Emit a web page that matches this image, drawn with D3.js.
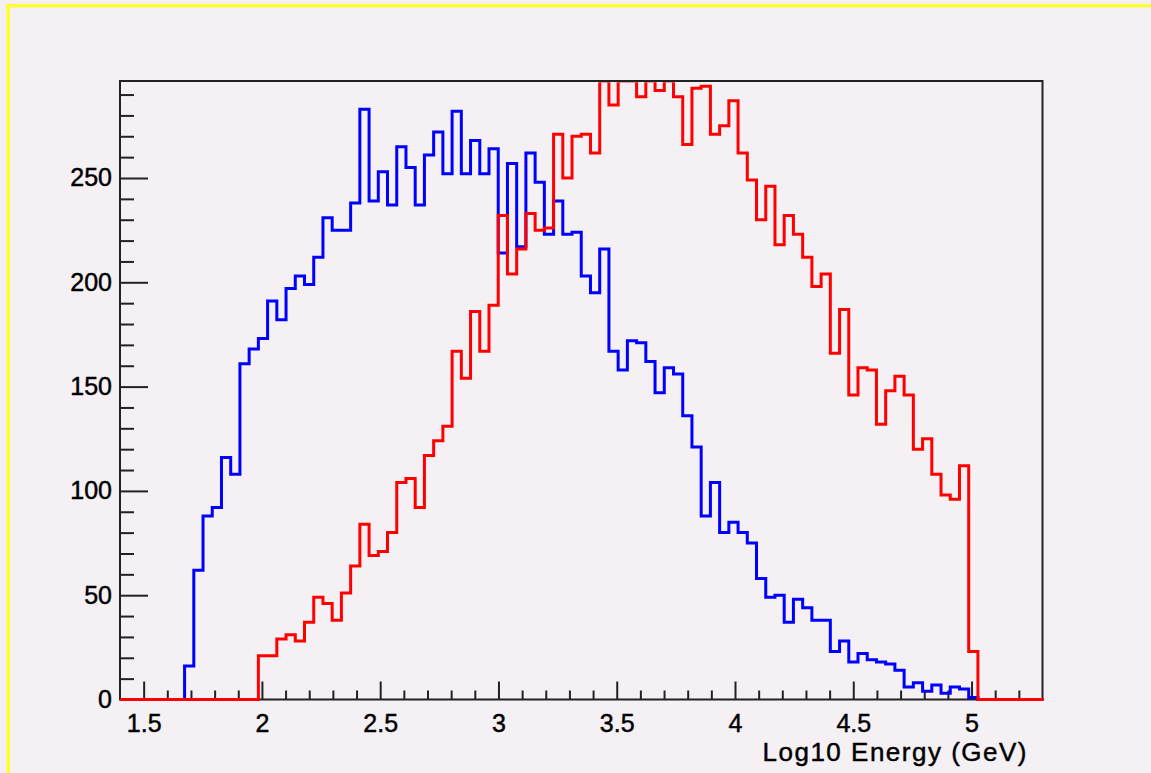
<!DOCTYPE html>
<html>
<head>
<meta charset="utf-8">
<script src="https://cdn.jsdelivr.net/npm/d3@7"></script>
<style>
  html, body { margin: 0; padding: 0; background: #f4f0f4; }
  svg { display: block; }
  text { font-family: "Liberation Sans", Arial, Helvetica, sans-serif; fill: #000; }
</style>
</head>
<body>
<svg id="chart" width="1151" height="773"></svg>
<script>
// Histogram binning: 100 equal bins over log10(E/GeV) in [1.4, 5.3]
const xMin = 1.4;
const xMax = 5.3;
const nBins = 100;
const yMax = 296.5;

// Bin contents, blue histogram
const blueCounts = [
  0, 0, 0, 0, 0, 0, 0, 16, 62, 88,
  92, 116, 108, 161, 168, 173, 191, 182, 197, 203,
  199, 212, 231, 225, 225, 238, 283, 239, 253, 237,
  265, 255, 237, 261, 272, 252, 282, 252, 268, 252,
  264, 214, 257, 217, 262, 248, 223, 239, 223, 224,
  203, 195, 216, 167, 158, 172, 171, 162, 147, 159,
  156, 136, 121, 88, 104, 80, 85, 80, 75, 58,
  49, 50, 37, 48, 44, 38, 38, 23, 28, 18,
  22, 19, 18, 17, 14, 6, 8, 4, 7, 3,
  6, 5, 1, 0, 0, 0, 0, 0, 0, 0
];

// Bin contents, red histogram
const redCounts = [
  0, 0, 0, 0, 0, 0, 0, 0, 0, 0,
  0, 0, 0, 0, 0, 21, 21, 29, 31, 28,
  37, 49, 46, 38, 51, 64, 84, 69, 71, 80,
  104, 106, 92, 117, 124, 131, 167, 154, 186, 167,
  189, 232, 204, 216, 233, 225, 226, 271, 250, 270,
  271, 262, 302, 285, 308, 304, 289, 306, 292, 300,
  289, 266, 293, 294, 271, 275, 287, 262, 249, 230,
  246, 218, 232, 223, 212, 198, 204, 166, 187, 146,
  159, 158, 132, 148, 155, 146, 120, 125, 108, 98,
  96, 112, 23, 0, 0, 0, 0, 0, 0, 0
];

// Axis ticks and labels
const xMajorTicks = [1.5, 2, 2.5, 3, 3.5, 4, 4.5, 5];
const xMinorTicks = [1.6, 1.7, 1.8, 1.9, 2.1, 2.2, 2.3, 2.4, 2.6, 2.7, 2.8, 2.9,
  3.1, 3.2, 3.3, 3.4, 3.6, 3.7, 3.8, 3.9, 4.1, 4.2, 4.3, 4.4, 4.6, 4.7, 4.8, 4.9, 5.1, 5.2];
const yMajorTicks = [0, 50, 100, 150, 200, 250];
const yMinorTicks = [10, 20, 30, 40, 60, 70, 80, 90, 110, 120, 130, 140, 160, 170, 180, 190,
  210, 220, 230, 240, 260, 270, 280, 290];
const xTitle = "Log10 Energy (GeV)";

const svg = d3.select("#chart");
const W = 1151, H = 773;
const frame = { left: 120, right: 1042.5, top: 81, bottom: 699.5 };

// canvas background and the yellow pad border
svg.append("rect").attr("width", W).attr("height", H).attr("fill", "#f4f0f4");
svg.append("rect").attr("x", 6).attr("y", 4).attr("width", W - 6).attr("height", 3.3).attr("fill", "#ffff30");
svg.append("rect").attr("x", 6.5).attr("y", 4).attr("width", 3.5).attr("height", H - 4).attr("fill", "#ffff30");

const x = d3.scaleLinear().domain([xMin, xMax]).range([frame.left, frame.right]);
const y = d3.scaleLinear().domain([0, yMax]).range([frame.bottom, frame.top]).clamp(true);

// frame box
svg.append("rect")
  .attr("x", frame.left).attr("y", frame.top)
  .attr("width", frame.right - frame.left).attr("height", frame.bottom - frame.top)
  .attr("fill", "none").attr("stroke", "#222").attr("stroke-width", 2);

const labelSize = 25;

function styleLabels(sel) {
  sel.attr("font-size", labelSize).attr("fill", "#000")
    .attr("stroke", "#000").attr("stroke-width", 0.45);
}

// y axis: major ticks with labels, minor ticks
const yAxisMajor = d3.axisLeft(y).tickValues(yMajorTicks).tickSizeInner(-28).tickSizeOuter(0)
  .tickPadding(8).tickFormat(d3.format("d"));
const gy = svg.append("g").attr("transform", `translate(${frame.left},0)`).call(yAxisMajor);
gy.select(".domain").remove();
gy.attr("font-family", null);
gy.selectAll("line").attr("stroke", "#222").attr("stroke-width", 2);
styleLabels(gy.selectAll("text"));

const yAxisMinor = d3.axisLeft(y).tickValues(yMinorTicks).tickSizeInner(-14).tickSizeOuter(0).tickFormat("");
const gym = svg.append("g").attr("transform", `translate(${frame.left},0)`).call(yAxisMinor);
gym.select(".domain").remove();
gym.selectAll("line").attr("stroke", "#222").attr("stroke-width", 2);

// x axis: ticks point up into the frame, labels below
const xAxisMajor = d3.axisBottom(x).tickValues(xMajorTicks).tickSizeInner(-18).tickSizeOuter(0)
  .tickPadding(14.5).tickFormat(d => String(d));
const gx = svg.append("g").attr("transform", `translate(0,${frame.bottom})`).call(xAxisMajor);
gx.select(".domain").remove();
gx.attr("font-family", null);
gx.selectAll("line").attr("stroke", "#222").attr("stroke-width", 2);
styleLabels(gx.selectAll("text"));

const xAxisMinor = d3.axisBottom(x).tickValues(xMinorTicks).tickSizeInner(-9).tickSizeOuter(0).tickFormat("");
const gxm = svg.append("g").attr("transform", `translate(0,${frame.bottom})`).call(xAxisMinor);
gxm.select(".domain").remove();
gxm.selectAll("line").attr("stroke", "#222").attr("stroke-width", 2);

// x axis title, right-aligned under the axis
svg.append("text")
  .attr("x", 1028).attr("y", 761)
  .attr("text-anchor", "end")
  .attr("font-size", 26)
  .attr("letter-spacing", "1.5px")
  .attr("stroke", "#000").attr("stroke-width", 0.45)
  .text(xTitle);

// clip histograms to the inside of the frame (they may run over the bottom axis line)
svg.append("clipPath").attr("id", "plotClip")
  .append("rect")
  .attr("x", frame.left).attr("y", frame.top + 1.2)
  .attr("width", frame.right - frame.left + 1).attr("height", frame.bottom - frame.top + 6);

const binWidth = (xMax - xMin) / nBins;
function stepPoints(counts) {
  const pts = counts.map((c, i) => [xMin + i * binWidth, c]);
  pts.push([xMax, counts[counts.length - 1]]);
  return pts;
}
const stepLine = d3.line().x(d => x(d[0])).y(d => y(d[1])).curve(d3.curveStepAfter);

const hg = svg.append("g").attr("clip-path", "url(#plotClip)");
hg.append("path")
  .attr("d", stepLine(stepPoints(blueCounts)))
  .attr("fill", "none").attr("stroke", "#0000ff").attr("stroke-width", 3)
  .attr("stroke-linejoin", "miter").attr("stroke-linecap", "square");
hg.append("path")
  .attr("d", stepLine(stepPoints(redCounts)))
  .attr("fill", "none").attr("stroke", "#ff0000").attr("stroke-width", 3)
  .attr("stroke-linejoin", "miter").attr("stroke-linecap", "square");
</script>
</body>
</html>
